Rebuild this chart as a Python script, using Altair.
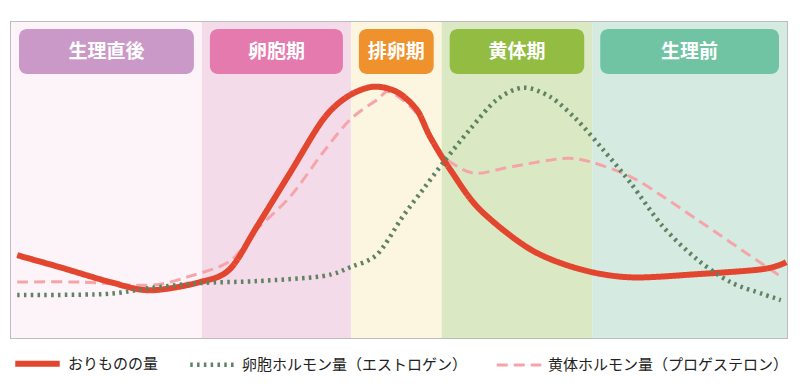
import altair as alt
import pandas as pd

# Phases (x in % of cycle)
phase_names = ["生理直後", "卵胞期", "排卵期", "黄体期", "生理前"]
phase_start = [0.0, 24.6, 43.8, 55.5, 74.9]
phase_end = [24.6, 43.8, 55.5, 74.9, 100.0]
phase_bg = ["#FCF4F8", "#F3DBE9", "#FCF5DF", "#DAE8C3", "#D5EBE1"]
phase_box = ["#CB99C7", "#E57AAE", "#EF922D", "#93BC43", "#71C4A3"]

series_names = ["おりものの量", "卵胞ホルモン量（エストロゲン）", "黄体ホルモン量（プロゲステロン）"]
series_colors = ["#E2462F", "#5E8262", "#F5A5AA"]

red_x = [0.8, 6.3, 12.8, 17.9, 24.4, 28.2, 31.7, 36.0, 40.2, 43.3, 46.6, 49.7, 52.3, 54.0, 56.6, 60.4, 66.9, 73.3, 79.8, 88.4, 96.9, 99.9]
red_y = [26.2, 22.4, 17.7, 15.1, 17.7, 21.8, 35.3, 52.4, 69.1, 76.3, 79.5, 77.9, 72.2, 63.7, 53.3, 40.7, 28.1, 21.8, 19.2, 20.2, 21.8, 24.0]

green_x = [0.8, 12.1, 17.9, 24.4, 31.7, 40.2, 43.7, 47.2, 50.5, 53.1, 55.7, 59.1, 62.6, 66.0, 69.5, 72.9, 76.3, 79.8, 84.0, 88.4, 92.7, 96.9, 99.2]
green_y = [13.6, 13.9, 15.8, 17.4, 18.0, 19.6, 22.4, 26.5, 38.5, 47.0, 55.5, 65.9, 75.4, 79.2, 76.3, 69.1, 59.6, 49.2, 35.3, 24.9, 17.7, 13.9, 12.0]

pink_x = [0.8, 8.9, 17.9, 23.1, 28.2, 31.7, 36.0, 40.2, 43.7, 47.2, 48.8, 52.1, 54.9, 57.5, 60.1, 64.7, 71.1, 74.6, 79.8, 84.0, 88.4, 92.7, 99.1]
pink_y = [17.7, 17.7, 16.7, 19.6, 24.3, 34.4, 44.8, 58.7, 69.1, 75.4, 77.9, 71.6, 59.6, 54.3, 52.1, 54.3, 56.8, 55.8, 51.1, 44.8, 37.5, 30.3, 19.6]

FONT = "Noto Sans CJK JP"

phases = pd.DataFrame({"name": phase_names, "start": phase_start, "end": phase_end,
                       "bg": phase_bg, "box": phase_box})

rows = []
for name, xs_, ys_ in [(series_names[0], red_x, red_y),
                       (series_names[1], green_x, green_y),
                       (series_names[2], pink_x, pink_y)]:
    for i, (a, b) in enumerate(zip(xs_, ys_)):
        rows.append({"series": name, "x": a, "y": b, "i": i})
lines = pd.DataFrame(rows)

xs = alt.Scale(domain=[0, 100], nice=False, zero=False)
ys = alt.Scale(domain=[0, 100], nice=False, zero=False)

bands = alt.Chart(phases).mark_rect().encode(
    x=alt.X("start:Q", scale=xs, axis=None),
    x2="end:Q",
    fill=alt.Fill("bg:N", scale=None, legend=None),
)

boxes = alt.Chart(phases).mark_rect(cornerRadius=8, xOffset=8, x2Offset=-8).encode(
    x=alt.X("start:Q", scale=xs, axis=None),
    x2="end:Q",
    y=alt.value(7),
    y2=alt.value(52),
    fill=alt.Fill("box:N", scale=None, legend=None),
)

labels = alt.Chart(phases).transform_calculate(mid="(datum.start + datum.end) / 2").mark_text(
    color="white", fontSize=19, fontWeight="bold", font=FONT, align="center", baseline="middle"
).encode(
    x=alt.X("mid:Q", scale=xs, axis=None),
    y=alt.value(30),
    text="name:N",
)

legend = alt.Legend(title=None, orient="none", direction="horizontal",
                    legendX=1, legendY=316, symbolType="stroke",
                    symbolSize=1980, labelFont=FONT, labelFontSize=15,
                    labelColor="#222222", labelOffset=5, columnPadding=22,
                    labelLimit=400, padding=0)

enc_common = dict(
    x=alt.X("x:Q", scale=xs, axis=None),
    y=alt.Y("y:Q", scale=ys, axis=None),
    order="i:Q",
    color=alt.Color("series:N", scale=alt.Scale(domain=series_names, range=series_colors),
                    sort=series_names, legend=legend),
    strokeDash=alt.StrokeDash("series:N", scale=alt.Scale(domain=series_names,
                                                          range=[[1, 0], [2.5, 4.3], [11, 6]]),
                              sort=series_names, legend=legend),
    strokeWidth=alt.StrokeWidth("series:N", scale=alt.Scale(domain=series_names, range=[6, 3, 3.5]),
                                sort=series_names, legend=legend),
)

def line_layer(name):
    return alt.Chart(lines).transform_filter(alt.datum.series == name).mark_line(
        interpolate="cardinal", tension=0.1, strokeCap="butt"
    ).encode(**enc_common)

chart = alt.layer(
    bands, boxes, labels,
    line_layer(series_names[2]),
    line_layer(series_names[0]),
    line_layer(series_names[1]),
).properties(
    width=776, height=316,
    padding={"left": 3, "top": 14, "right": 5, "bottom": 45},
    autosize=alt.AutoSizeParams(type="none"),
).configure_view(
    stroke="#BDBDBD", strokeWidth=2
)

chart.save("out.html", embed_options={"renderer": "svg", "actions": False})
